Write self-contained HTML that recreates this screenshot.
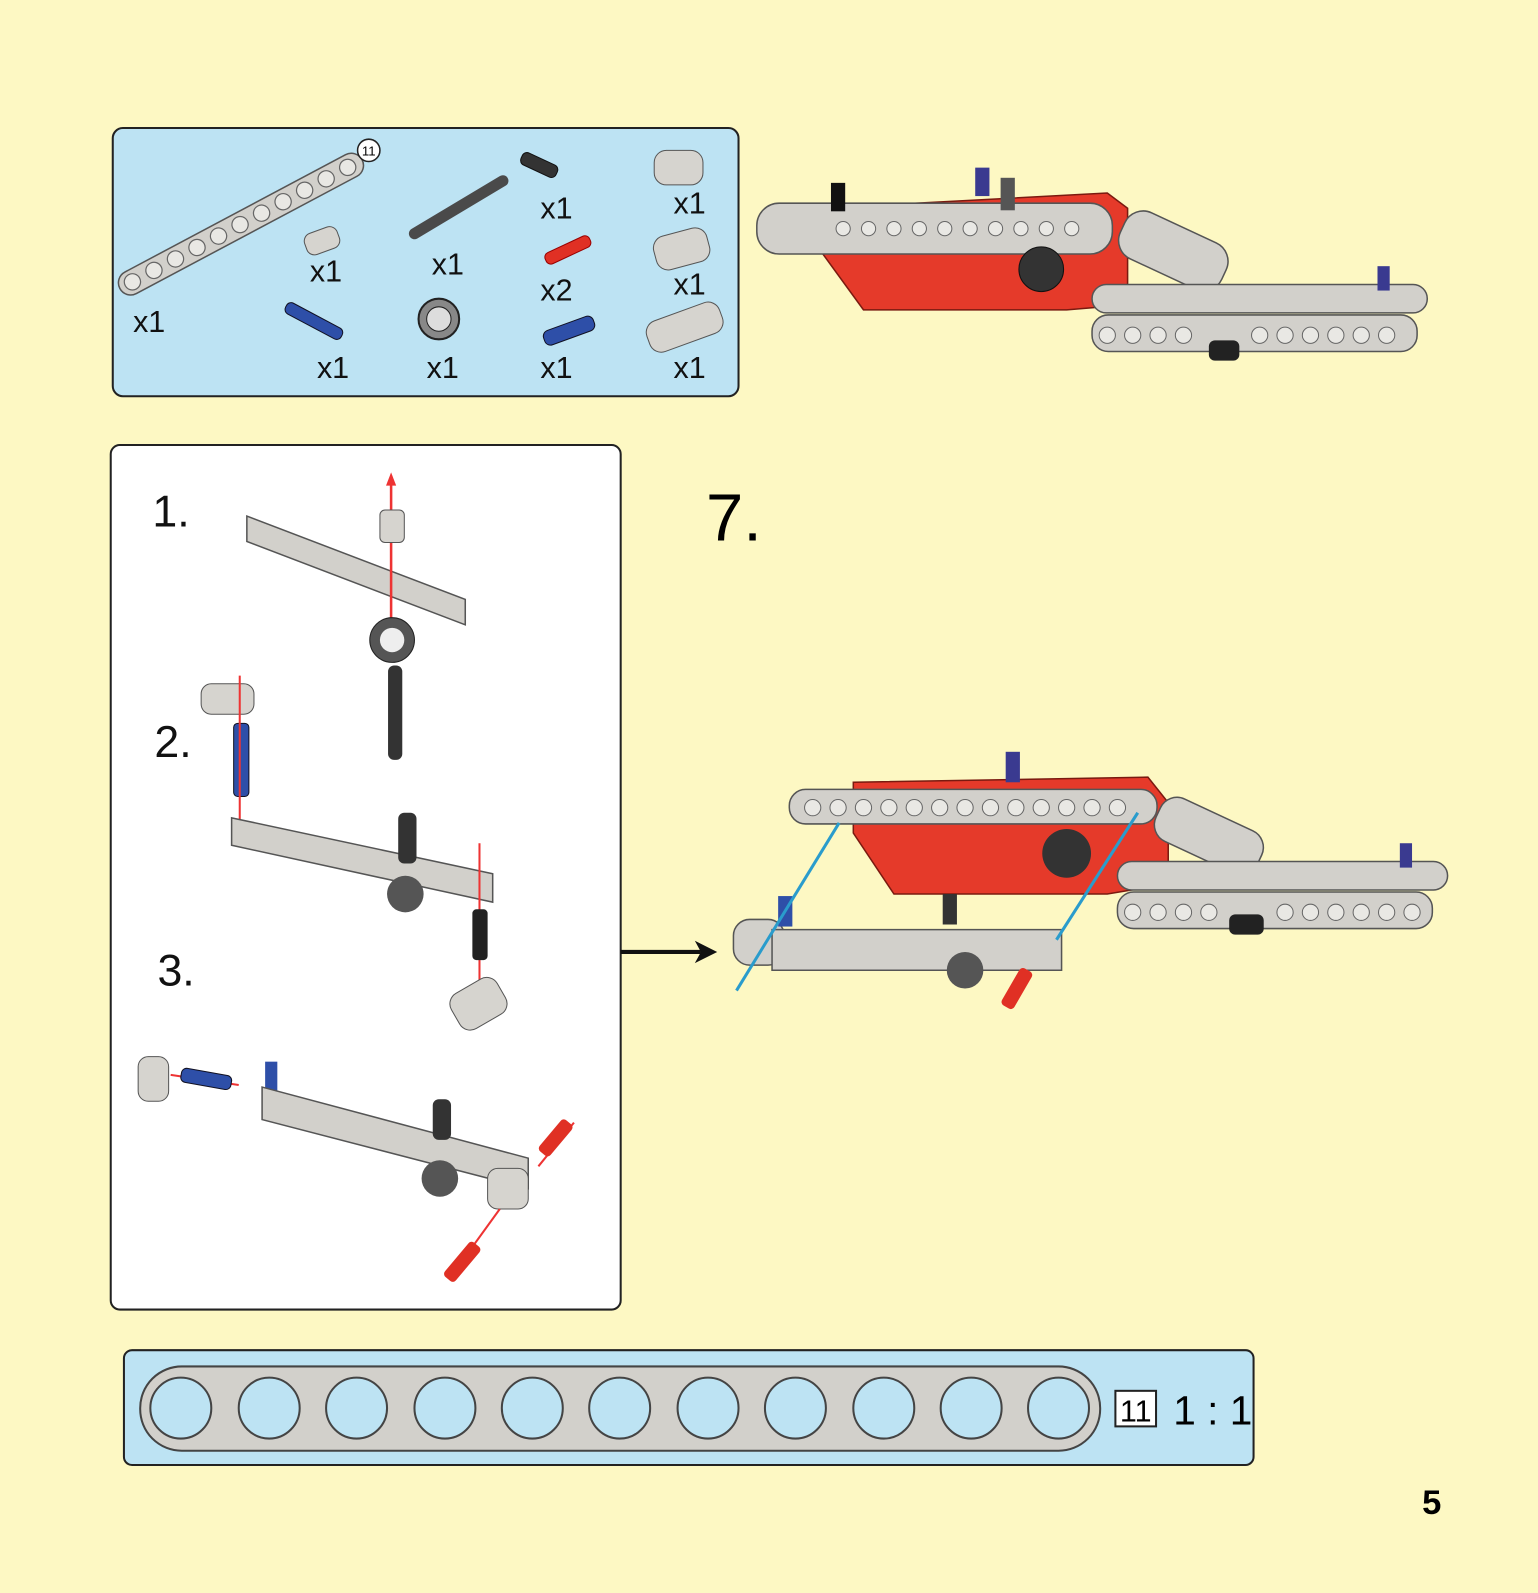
<!DOCTYPE html>
<html><head><meta charset="utf-8"><style>
html,body{margin:0;padding:0}
body{width:1538px;height:1593px;background:#fdf8c3;position:relative;overflow:hidden;font-family:"Liberation Sans",sans-serif}
svg{position:absolute;left:0;top:0}
</style></head><body>
<svg width="1538" height="1593" viewBox="0 0 1514 1568" preserveAspectRatio="none">
<!-- parts box -->
<rect x="111" y="126" width="616" height="264" rx="10" fill="#bde3f3" stroke="#222" stroke-width="2"/>
<g transform="translate(118,284) rotate(-28)">
<rect x="0" y="-12" width="270" height="24" rx="12" fill="#d2d0cb" stroke="#555" stroke-width="1.5"/>
<g fill="#e9e8e4" stroke="#666" stroke-width="1.2"><circle cx="14" cy="0" r="8"/><circle cx="38" cy="0" r="8"/><circle cx="62" cy="0" r="8"/><circle cx="86" cy="0" r="8"/><circle cx="110" cy="0" r="8"/><circle cx="134" cy="0" r="8"/><circle cx="158" cy="0" r="8"/><circle cx="182" cy="0" r="8"/><circle cx="206" cy="0" r="8"/><circle cx="230" cy="0" r="8"/><circle cx="254" cy="0" r="8"/></g></g>
<circle cx="363" cy="148" r="11" fill="#fff" stroke="#222" stroke-width="1.5"/>
<text x="363" y="153" font-size="13" text-anchor="middle" font-family="Liberation Sans">11</text>
<rect x="300" y="226" width="34" height="22" rx="8" fill="#d6d4cf" stroke="#555" transform="rotate(-20 317 237)"/>
<line x1="408" y1="230" x2="495" y2="178" stroke="#4a4a4a" stroke-width="11" stroke-linecap="round"/>
<rect x="512" y="156" width="38" height="13" rx="5" fill="#333" stroke="#111" transform="rotate(25 531 162)"/>
<rect x="535" y="240" width="48" height="12" rx="5" fill="#e03024" stroke="#900" transform="rotate(-25 559 246)"/>
<rect x="278" y="310" width="62" height="12" rx="5" fill="#2e4fa8" stroke="#112" transform="rotate(28 309 316)"/>
<circle cx="432" cy="314" r="20" fill="#888" stroke="#222" stroke-width="2"/>
<circle cx="432" cy="314" r="12" fill="#ddd" stroke="#222"/>
<rect x="534" y="318" width="52" height="15" rx="6" fill="#2e4fa8" stroke="#112" transform="rotate(-20 560 325)"/>
<rect x="644" y="148" width="48" height="34" rx="12" fill="#d6d4cf" stroke="#555"/>
<rect x="644" y="228" width="54" height="34" rx="12" fill="#d6d4cf" stroke="#555" transform="rotate(-15 671 245)"/>
<rect x="636" y="306" width="76" height="32" rx="12" fill="#d6d4cf" stroke="#555" transform="rotate(-20 674 322)"/>
<g font-size="30" font-family="Liberation Sans" fill="#111">
<text x="131" y="327">x1</text><text x="305" y="277">x1</text><text x="425" y="270">x1</text><text x="532" y="215">x1</text><text x="532" y="296">x2</text><text x="663" y="210">x1</text><text x="663" y="290">x1</text><text x="312" y="372">x1</text><text x="420" y="372">x1</text><text x="532" y="372">x1</text><text x="663" y="372">x1</text></g>

<!-- top model -->
<path d="M808 205 L1090 190 L1110 205 L1110 300 L1050 305 L850 305 L810 250 Z" fill="#e53a2a" stroke="#7a1a10" stroke-width="1.5"/>
<rect x="745" y="200" width="350" height="50" rx="22" fill="#d2d0cb" stroke="#555" stroke-width="1.5"/>
<g fill="#e9e8e4" stroke="#666"><circle cx="830" cy="225" r="7"/><circle cx="855" cy="225" r="7"/><circle cx="880" cy="225" r="7"/><circle cx="905" cy="225" r="7"/><circle cx="930" cy="225" r="7"/><circle cx="955" cy="225" r="7"/><circle cx="980" cy="225" r="7"/><circle cx="1005" cy="225" r="7"/><circle cx="1030" cy="225" r="7"/><circle cx="1055" cy="225" r="7"/></g>
<rect x="1100" y="222" width="110" height="50" rx="20" fill="#d2d0cb" stroke="#555" stroke-width="1.5" transform="rotate(25 1155 247)"/>
<rect x="1075" y="280" width="330" height="28" rx="14" fill="#d2d0cb" stroke="#555" stroke-width="1.5"/>
<rect x="1075" y="310" width="320" height="36" rx="16" fill="#d2d0cb" stroke="#555" stroke-width="1.5"/>
<g fill="#e9e8e4" stroke="#666"><circle cx="1090" cy="330" r="8"/><circle cx="1115" cy="330" r="8"/><circle cx="1140" cy="330" r="8"/><circle cx="1165" cy="330" r="8"/><circle cx="1240" cy="330" r="8"/><circle cx="1265" cy="330" r="8"/><circle cx="1290" cy="330" r="8"/><circle cx="1315" cy="330" r="8"/><circle cx="1340" cy="330" r="8"/><circle cx="1365" cy="330" r="8"/></g>
<circle cx="1025" cy="265" r="22" fill="#333" stroke="#111"/>
<rect x="818" y="180" width="14" height="28" fill="#111"/><rect x="960" y="165" width="14" height="28" fill="#3a3a90"/><rect x="985" y="175" width="14" height="32" fill="#555"/><rect x="1356" y="262" width="12" height="24" fill="#3a3a90"/>
<rect x="1190" y="335" width="30" height="20" rx="6" fill="#222"/>
<!-- white steps box -->
<rect x="109" y="438" width="502" height="851" rx="9" fill="#fff" stroke="#222" stroke-width="2"/>
<g font-size="44" font-family="Liberation Sans" fill="#111"><text x="150" y="518">1.</text><text x="152" y="745">2.</text><text x="155" y="970">3.</text></g>
<polygon points="243,508 458,590 458,615 243,533" fill="#d2d0cb" stroke="#555" stroke-width="1.5"/>
<line x1="385" y1="470" x2="385" y2="640" stroke="#e33" stroke-width="2.5"/>
<polygon points="385,465 380,478 390,478" fill="#e33"/>
<rect x="374" y="502" width="24" height="32" rx="5" fill="#d6d4cf" stroke="#555"/>
<circle cx="386" cy="630" r="22" fill="#555" stroke="#222"/><circle cx="386" cy="630" r="12" fill="#eee"/>
<rect x="382" y="655" width="14" height="93" rx="6" fill="#333"/>
<rect x="198" y="673" width="52" height="30" rx="10" fill="#d6d4cf" stroke="#555"/>
<rect x="230" y="712" width="15" height="72" rx="4" fill="#2e4fa8" stroke="#112"/>
<line x1="236" y1="665" x2="236" y2="808" stroke="#e33" stroke-width="2"/>
<polygon points="228,805 485,860 485,888 228,832" fill="#d2d0cb" stroke="#555" stroke-width="1.5"/>
<rect x="392" y="800" width="18" height="50" rx="6" fill="#333"/>
<circle cx="399" cy="880" r="18" fill="#555"/>
<line x1="472" y1="830" x2="472" y2="990" stroke="#e33" stroke-width="2"/>
<rect x="465" y="895" width="15" height="50" rx="4" fill="#222"/>
<rect x="445" y="968" width="52" height="40" rx="12" fill="#d6d4cf" stroke="#555" transform="rotate(-30 471 988)"/>
<rect x="136" y="1040" width="30" height="44" rx="10" fill="#d6d4cf" stroke="#555"/>
<line x1="168" y1="1058" x2="235" y2="1068" stroke="#e33" stroke-width="2"/>
<rect x="178" y="1055" width="50" height="14" rx="5" fill="#2e4fa8" stroke="#112" transform="rotate(10 203 1062)"/>
<rect x="261" y="1045" width="12" height="30" fill="#2e4fa8"/>
<polygon points="258,1070 520,1140 520,1170 258,1102" fill="#d2d0cb" stroke="#555" stroke-width="1.5"/>
<rect x="426" y="1082" width="18" height="40" rx="6" fill="#333"/>
<circle cx="433" cy="1160" r="18" fill="#555"/>
<rect x="480" y="1150" width="40" height="40" rx="10" fill="#d6d4cf" stroke="#555"/>
<line x1="530" y1="1148" x2="565" y2="1105" stroke="#e33" stroke-width="2"/>
<rect x="540" y="1100" width="14" height="40" rx="4" fill="#e03024" transform="rotate(40 547 1120)"/>
<line x1="492" y1="1190" x2="445" y2="1255" stroke="#e33" stroke-width="2"/>
<rect x="448" y="1220" width="14" height="44" rx="4" fill="#e03024" transform="rotate(40 455 1242)"/>
<!-- arrow -->
<line x1="611" y1="937" x2="690" y2="937" stroke="#111" stroke-width="4"/>
<polygon points="706,937 684,926 690,937 684,948" fill="#111"/>
<!-- main model -->
<path d="M840 770 L1130 765 L1150 790 L1150 870 L1090 880 L880 880 L840 820 Z" fill="#e53a2a" stroke="#7a1a10" stroke-width="1.5"/>
<rect x="777" y="777" width="362" height="34" rx="16" fill="#d2d0cb" stroke="#555" stroke-width="1.5"/>
<g fill="#e9e8e4" stroke="#666"><circle cx="800" cy="795" r="8"/><circle cx="825" cy="795" r="8"/><circle cx="850" cy="795" r="8"/><circle cx="875" cy="795" r="8"/><circle cx="900" cy="795" r="8"/><circle cx="925" cy="795" r="8"/><circle cx="950" cy="795" r="8"/><circle cx="975" cy="795" r="8"/><circle cx="1000" cy="795" r="8"/><circle cx="1025" cy="795" r="8"/><circle cx="1050" cy="795" r="8"/><circle cx="1075" cy="795" r="8"/><circle cx="1100" cy="795" r="8"/></g>
<rect x="1135" y="800" width="110" height="46" rx="18" fill="#d2d0cb" stroke="#555" stroke-width="1.5" transform="rotate(25 1190 823)"/>
<rect x="1100" y="848" width="325" height="28" rx="14" fill="#d2d0cb" stroke="#555" stroke-width="1.5"/>
<rect x="1100" y="878" width="310" height="36" rx="16" fill="#d2d0cb" stroke="#555" stroke-width="1.5"/>
<g fill="#e9e8e4" stroke="#666"><circle cx="1115" cy="898" r="8"/><circle cx="1140" cy="898" r="8"/><circle cx="1165" cy="898" r="8"/><circle cx="1190" cy="898" r="8"/><circle cx="1265" cy="898" r="8"/><circle cx="1290" cy="898" r="8"/><circle cx="1315" cy="898" r="8"/><circle cx="1340" cy="898" r="8"/><circle cx="1365" cy="898" r="8"/><circle cx="1390" cy="898" r="8"/></g>
<circle cx="1050" cy="840" r="24" fill="#333"/>
<rect x="990" y="740" width="14" height="30" fill="#3a3a90"/><rect x="1378" y="830" width="12" height="24" fill="#3a3a90"/>
<rect x="1210" y="900" width="34" height="20" rx="6" fill="#222"/>
<rect x="722" y="905" width="50" height="45" rx="16" fill="#d2d0cb" stroke="#555" stroke-width="1.5"/>
<polygon points="760,915 1045,915 1045,955 760,955" fill="#d2d0cb" stroke="#555" stroke-width="1.5"/>
<rect x="766" y="882" width="14" height="30" fill="#2e4fa8"/><rect x="928" y="880" width="14" height="30" fill="#333"/>
<circle cx="950" cy="955" r="18" fill="#555"/>
<rect x="994" y="952" width="14" height="42" rx="4" fill="#e03024" transform="rotate(30 1001 973)"/>
<line x1="826" y1="810" x2="725" y2="975" stroke="#2a9ccc" stroke-width="3"/>
<line x1="1120" y1="800" x2="1040" y2="925" stroke="#2a9ccc" stroke-width="3"/>
<!-- bottom scale bar -->
<rect x="122" y="1329" width="1112" height="113" rx="8" fill="#bde3f3" stroke="#222" stroke-width="2"/>
<rect x="138" y="1345" width="945" height="83" rx="41" fill="#d2d0cb" stroke="#444" stroke-width="2"/>
<g fill="#bde3f3" stroke="#444" stroke-width="2">
<circle cx="178" cy="1386" r="30"/><circle cx="265" cy="1386" r="30"/><circle cx="351" cy="1386" r="30"/><circle cx="438" cy="1386" r="30"/><circle cx="524" cy="1386" r="30"/><circle cx="610" cy="1386" r="30"/><circle cx="697" cy="1386" r="30"/><circle cx="783" cy="1386" r="30"/><circle cx="870" cy="1386" r="30"/><circle cx="956" cy="1386" r="30"/><circle cx="1042" cy="1386" r="30"/></g>
<rect x="1098" y="1369" width="40" height="35" fill="#fff" stroke="#222" stroke-width="2"/>
<text x="1118" y="1399" font-size="30" text-anchor="middle" font-family="Liberation Sans">11</text>
<text x="1155" y="1402" font-size="40" font-family="Liberation Sans">1 : 1</text>
<text x="695" y="532" font-size="66" font-family="Liberation Sans">7.</text>
<text x="1400" y="1490" font-size="34" font-weight="bold" font-family="Liberation Sans">5</text>
</svg>
</body></html>
